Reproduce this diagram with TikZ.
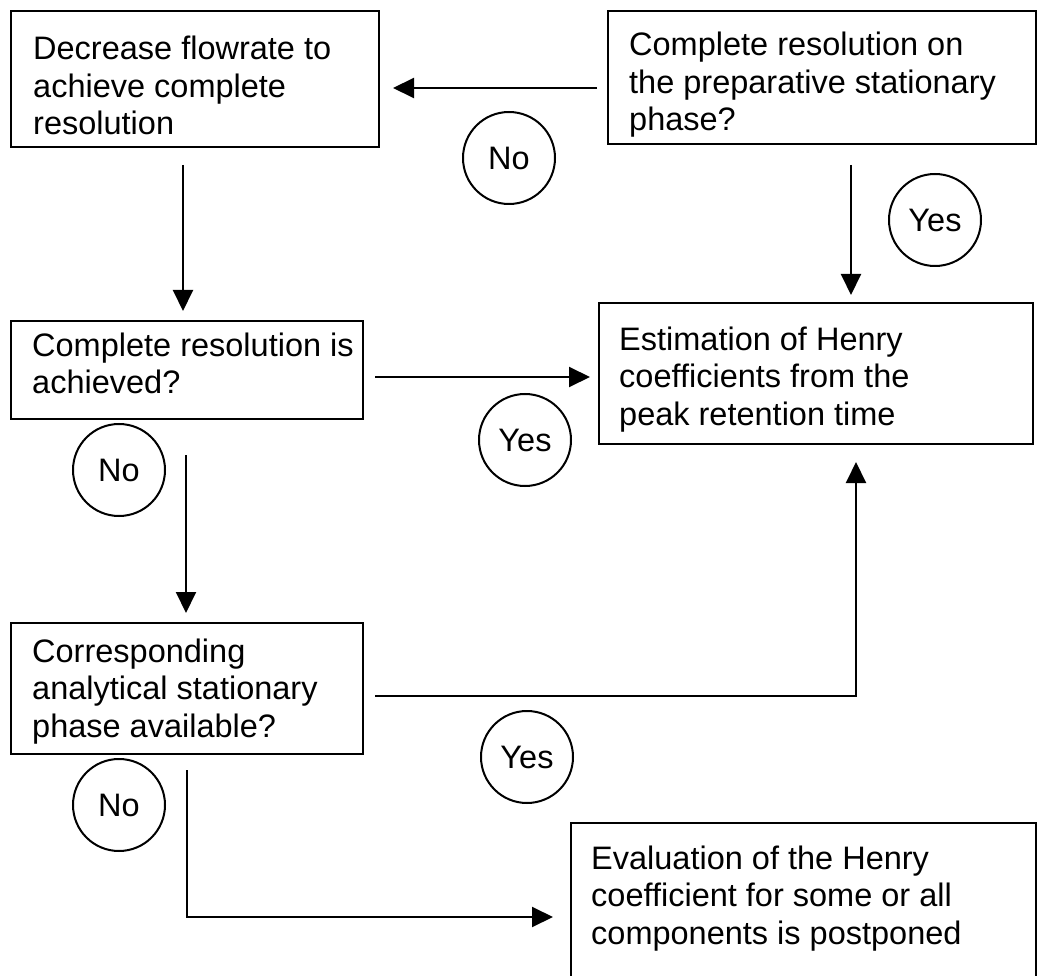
\documentclass[tikz,border=0pt]{standalone}
\usepackage{fontspec}
\setmainfont{Liberation Sans}
\usetikzlibrary{arrows.meta,calc}
\begin{document}
\begin{tikzpicture}[x=1pt,y=-1pt,
  box/.style={draw,line width=2pt,rectangle,anchor=north west,inner sep=0pt},
  txt/.style={anchor=base west,inner sep=0pt,align=left,font=\fontsize{32.5}{37.5}\selectfont},
  ans/.style={draw,circle,line width=2pt,minimum size=92pt,inner sep=0pt,font=\fontsize{32.5}{37}\selectfont},
  arr/.style={line width=2pt,-{Triangle[length=21pt,width=20pt]}}]
\useasboundingbox[fill=white] (0,0) rectangle (1042,976);

% boxes (text nodes anchored at the baseline of their last line)
\node[box,minimum width=368pt,minimum height=136pt] (b1) at (10,10) {};
\node[txt] (t1) at (33,135) {Decrease flowrate to\\achieve complete\\resolution};
\node[box,minimum width=428pt,minimum height=133pt] (b2) at (607,10) {};
\node[txt] (t2) at (629,131) {Complete resolution on\\the preparative stationary\\phase?};
\node[box,minimum width=352pt,minimum height=98pt] (b3) at (10,320) {};
\node[txt] (t3) at (32,394) {Complete resolution is\\achieved?};
\node[box,minimum width=434pt,minimum height=141pt] (b4) at (598,302) {};
\node[txt] (t4) at (619,425) {Estimation of Henry\\coefficients from the\\peak retention time};
\node[box,minimum width=352pt,minimum height=131pt] (b5) at (10,622) {};
\node[txt] (t5) at (32,737) {Corresponding\\analytical stationary\\phase available?};
\node[box,minimum width=465pt,minimum height=170pt] (b6) at (570,822) {};
\node[txt] (t6) at (591,944) {Evaluation of the Henry\\coefficient for some or all\\components is postponed};

% answer circles
\node[ans] (n1) at (509,158) {No};
\node[ans] (y1) at (935,220) {Yes};
\node[ans] (y2) at (525,440) {Yes};
\node[ans] (n2) at (119,470) {No};
\node[ans] (y3) at (527,757) {Yes};
\node[ans] (n3) at (119,805) {No};

% connector end points
\coordinate (a1s) at (597,88);  \coordinate (a1e) at (393,88);
\coordinate (a2s) at (183,165); \coordinate (a2e) at (183,311);
\coordinate (a3s) at (375,377); \coordinate (a3e) at (590,377);
\coordinate (a4s) at (851,165); \coordinate (a4e) at (851,295);
\coordinate (a5s) at (186,455); \coordinate (a5e) at (186,613);
\coordinate (a6s) at (375,696); \coordinate (a6c) at (856,696); \coordinate (a6e) at (856,462);
\coordinate (a7s) at (187,770); \coordinate (a7c) at (187,917); \coordinate (a7e) at (553,917);

\draw[arr] (a1s) -- (a1e);
\draw[arr] (a2s) -- (a2e);
\draw[arr] (a3s) -- (a3e);
\draw[arr] (a4s) -- (a4e);
\draw[arr] (a5s) -- (a5e);
\draw[arr] (a6s) -- (a6c) -- (a6e);
\draw[arr] (a7s) -- (a7c) -- (a7e);
\end{tikzpicture}
\end{document}
